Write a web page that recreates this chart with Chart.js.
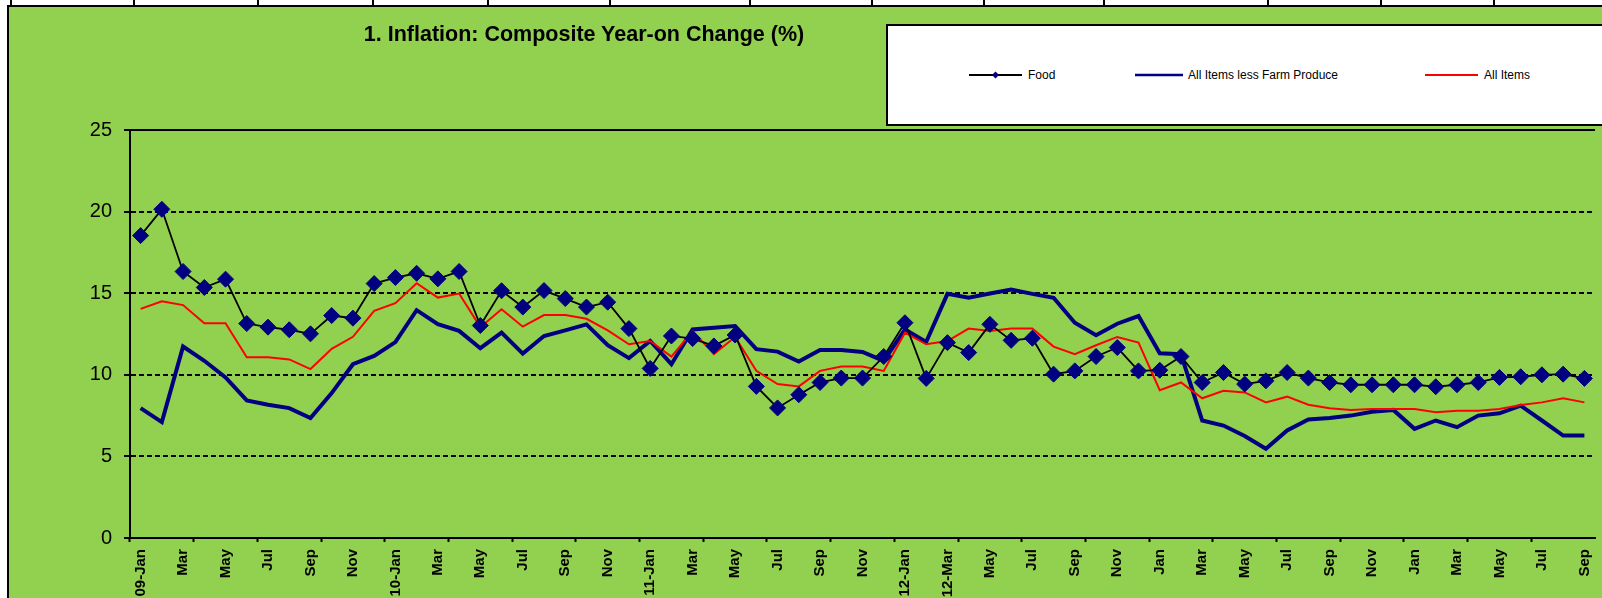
<!DOCTYPE html>
<html>
<head>
<meta charset="utf-8">
<title>1. Inflation: Composite Year-on Change (%)</title>
<script src="https://cdn.jsdelivr.net/npm/chart.js@4.4.1/dist/chart.umd.min.js"></script>
<style>
  html, body { margin: 0; padding: 0; }
  body {
    width: 1602px; height: 598px; overflow: hidden; position: relative;
    background: #fff; font-family: "Liberation Sans", Arial, sans-serif;
  }
  .cell { position: absolute; top: 0; width: 2px; height: 6px; background: #000; }
  #topLine { position: absolute; left: 7px; top: 5px; width: 1595px; height: 2px; background: #000; }
  #leftLine { position: absolute; left: 7px; top: 5px; width: 2px; height: 593px; background: #000; }
  #wrap {
    position: absolute; left: 9px; top: 7px; width: 1593px; height: 591px;
    overflow: hidden; background: #92d050;
  }
  #chart { position: absolute; left: 0; top: 0; }
  #title {
    position: absolute; left: 0; top: 24px; width: 1168px; text-align: center;
    font-weight: bold; font-size: 21.5px; line-height: 1; color: #000;
  }
  #legend {
    position: absolute; left: 886px; top: 24px; width: 800px; height: 98px;
    border: 2px solid #000; background: #fff;
  }
  .key { position: absolute; top: 69px; height: 12px; }
  .lab { position: absolute; top: 68px; font-size: 12px; line-height: 14px; color: #000; white-space: nowrap; }
</style>
</head>
<body>
<div class="cell" style="left:10px"></div>
<div class="cell" style="left:133px"></div>
<div class="cell" style="left:257px"></div>
<div class="cell" style="left:372px"></div>
<div class="cell" style="left:487px"></div>
<div class="cell" style="left:609px"></div>
<div class="cell" style="left:749px"></div>
<div class="cell" style="left:871px"></div>
<div class="cell" style="left:983px"></div>
<div class="cell" style="left:1103px"></div>
<div class="cell" style="left:1267px"></div>
<div class="cell" style="left:1380px"></div>
<div class="cell" style="left:1493px"></div>
<div id="topLine"></div>
<div id="leftLine"></div>

<div id="wrap"><canvas id="chart" width="1595" height="591"></canvas></div>

<div id="title">1. Inflation: Composite Year-on Change (%)</div>

<div id="legend"></div>
<svg class="key" style="left:969px" width="54" height="12">
  <line x1="0" y1="6" x2="53" y2="6" stroke="#000" stroke-width="2"/>
  <polygon points="26.5,2.5 30,6 26.5,9.5 23,6" fill="#000080"/>
</svg>
<span class="lab" style="left:1028px">Food</span>
<svg class="key" style="left:1135px" width="48" height="12">
  <line x1="0" y1="6" x2="48" y2="6" stroke="#000080" stroke-width="2.5"/>
</svg>
<span class="lab" style="left:1188px">All Items less Farm Produce</span>
<svg class="key" style="left:1425px" width="53" height="12">
  <line x1="0" y1="6" x2="53" y2="6" stroke="#ff0000" stroke-width="2"/>
</svg>
<span class="lab" style="left:1484px">All Items</span>

<script>
const categories = [
  "09-Jan", "Feb", "Mar", "Apr", "May", "Jun", "Jul", "Aug", "Sep", "Oct", "Nov", "Dec",
  "10-Jan", "Feb", "Mar", "Apr", "May", "Jun", "Jul", "Aug", "Sep", "Oct", "Nov", "Dec",
  "11-Jan", "Feb", "Mar", "Apr", "May", "Jun", "Jul", "Aug", "Sep", "Oct", "Nov", "Dec",
  "12-Jan", "Feb", "12-Mar", "Apr", "May", "Jun", "Jul", "Aug", "Sep", "Oct", "Nov", "Dec",
  "Jan", "Feb", "Mar", "Apr", "May", "Jun", "Jul", "Aug", "Sep", "Oct", "Nov", "Dec",
  "Jan", "Feb", "Mar", "Apr", "May", "Jun", "Jul", "Aug", "Sep"
];

const food = [
  18.53, 20.14, 16.33, 15.35, 15.86, 13.14, 12.92, 12.76, 12.51, 13.63, 13.47, 15.59,
  15.96, 16.22, 15.88, 16.33, 13.02, 15.15, 14.15, 15.16, 14.67, 14.15, 14.45, 12.83,
  10.39, 12.38, 12.22, 11.77, 12.44, 9.29, 7.97, 8.78, 9.53, 9.80, 9.80, 11.12,
  13.19, 9.78, 11.97, 11.36, 13.09, 12.11, 12.24, 10.04, 10.24, 11.12, 11.67, 10.24,
  10.28, 11.12, 9.53, 10.14, 9.43, 9.63, 10.14, 9.80, 9.53, 9.39, 9.39, 9.39,
  9.39, 9.27, 9.39, 9.53, 9.84, 9.88, 10.00, 10.04, 9.78
];

const allLessFarm = [
  7.96, 7.10, 11.73, 10.86, 9.84, 8.43, 8.16, 7.96, 7.35, 8.88, 10.65, 11.16,
  12.00, 13.96, 13.10, 12.69, 11.63, 12.58, 11.30, 12.38, 12.72, 13.09, 11.81, 11.02,
  12.07, 10.65, 12.78, 12.89, 12.99, 11.57, 11.42, 10.81, 11.52, 11.52, 11.40, 10.85,
  12.78, 12.01, 14.96, 14.72, 14.98, 15.22, 14.96, 14.72, 13.19, 12.42, 13.13, 13.60,
  11.32, 11.26, 7.20, 6.89, 6.25, 5.47, 6.59, 7.26, 7.36, 7.50, 7.74, 7.85,
  6.69, 7.20, 6.79, 7.50, 7.64, 8.11, 7.20, 6.28, 6.28
];

const allItems = [
  14.04, 14.51, 14.27, 13.16, 13.16, 11.08, 11.08, 10.94, 10.35, 11.59, 12.33, 13.92,
  14.39, 15.61, 14.73, 14.98, 12.92, 14.02, 12.95, 13.66, 13.66, 13.43, 12.72, 11.87,
  12.07, 11.12, 12.68, 11.26, 12.32, 10.24, 9.43, 9.29, 10.24, 10.51, 10.51, 10.24,
  12.58, 11.87, 12.07, 12.83, 12.68, 12.83, 12.83, 11.73, 11.26, 11.81, 12.32, 11.97,
  9.06, 9.53, 8.56, 9.02, 8.92, 8.31, 8.66, 8.17, 7.95, 7.85, 7.91, 7.91,
  7.91, 7.70, 7.80, 7.80, 7.91, 8.15, 8.31, 8.56, 8.31
];

const yMin = 0;
const yMax = 25;
const yStep = 5;

const chartCtx = document.getElementById("chart").getContext("2d");
new Chart(chartCtx, {
  type: "line",
  data: {
    labels: categories,
    datasets: [
      {
        label: "Food",
        data: food,
        borderColor: "#000000",
        borderWidth: 1.8,
        pointStyle: "rectRot",
        pointRadius: 8,
        pointBackgroundColor: "#000080",
        pointBorderColor: "#000080",
        pointBorderWidth: 1,
        order: 0,
      },
      {
        label: "All Items less Farm Produce",
        data: allLessFarm,
        borderColor: "#000080",
        borderWidth: 4,
        pointRadius: 0,
        order: 2,
      },
      {
        label: "All Items",
        data: allItems,
        borderColor: "#ff0000",
        borderWidth: 2,
        pointRadius: 0,
        order: 1,
      },
    ],
  },
  options: {
    responsive: false,
    animation: false,
    layout: { padding: { top: 123, left: 0, right: 0, bottom: 0 } },
    elements: { line: { tension: 0 } },
    plugins: {
      legend: { display: false },
      title: { display: false },
      tooltip: { enabled: false },
    },
    scales: {
      x: {
        offset: true,
        grid: {
          offset: true,
          drawOnChartArea: false,
          drawTicks: true,
          tickLength: 4,
          tickWidth: 2,
          tickColor: (c) => (c.index % 3 === 0 ? "#000" : "rgba(0,0,0,0)"),
        },
        border: { color: "#000", width: 2 },
        ticks: {
          autoSkip: false,
          maxRotation: 90,
          minRotation: 90,
          padding: 7,
          color: "#000",
          font: { family: "Liberation Sans", size: 15, weight: "bold" },
          callback: (v, i) => (i % 2 === 0 ? categories[i] : ""),
        },
        afterFit: (s) => {
          s.height = 60;
          s.paddingLeft = 0;
          s.paddingRight = 0;
        },
      },
      y: {
        min: yMin,
        max: yMax,
        ticks: {
          stepSize: yStep,
          padding: 12,
          color: "#000",
          font: { family: "Liberation Sans", size: 20 },
        },
        grid: {
          color: "#000",
          lineWidth: 2,
          tickLength: 6,
          tickWidth: 2,
          tickColor: "#000",
        },
        border: {
          color: "#000",
          width: 2,
          dash: (c) => (c.tick && c.tick.value === yMax ? [] : [5, 3]),
        },
        afterFit: (s) => {
          s.width = 121;
        },
      },
    },
  },
});
</script>
</body>
</html>
